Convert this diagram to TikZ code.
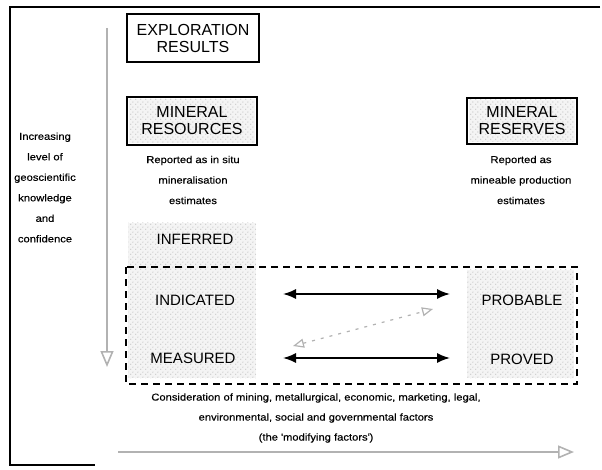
\documentclass[tikz,border=0pt]{standalone}
\usepackage{fontspec}
\setmainfont{Liberation Sans}
\newfontfamily\smallf{Liberation Sans}[FakeStretch=1.12,FakeBold=0.35]
\usetikzlibrary{arrows.meta,patterns}
\pgfdeclarepatternformonly{sparsedots}{\pgfpointorigin}{\pgfpoint{5pt}{5pt}}{\pgfpoint{5pt}{5pt}}{%
  \pgfpathcircle{\pgfpoint{1pt}{1pt}}{0.55pt}%
  \pgfpathcircle{\pgfpoint{3.5pt}{3.5pt}}{0.55pt}%
  \pgfusepath{fill}}
\begin{document}
\begin{tikzpicture}[x=1pt,y=-1pt,
  titlebox/.style={draw, line width=1.3pt, align=center, inner sep=0pt,
    font=\fontsize{16}{17}\selectfont},
  stipplebg/.style={fill=gray!9},
  stipple/.style={pattern=sparsedots, pattern color=gray!85},
  small/.style={align=center, font=\smallf\fontsize{10}{20.5}\selectfont},
  level/.style={font=\fontsize{15}{15}\selectfont, inner sep=1pt},
  bigarrow/.style={line width=1.6pt, {Latex[length=13pt,width=10pt]}-{Latex[length=13pt,width=10pt]}},
  grayarrow/.style={draw=gray!60, line width=1.6pt, -{Triangle[open, length=16pt, width=13pt]}},
  diagarrow/.style={draw=gray!60, line width=1.2pt, dash pattern=on 3pt off 6pt,
    {Triangle[open, length=11pt, width=9pt]}-{Triangle[open, length=11pt, width=9pt]}}
]
\useasboundingbox (0,0) rectangle (602,470);
% outer frame
\draw[line width=1.2pt] (600,7) -- (10,7) -- (10,465) -- (95,465);
% stipple areas
\foreach \r in {{(128,223) rectangle (256,378)},{(467,270) rectangle (574,378)},{(129,99) rectangle (255,143)},{(469,100) rectangle (575,142)}}{
  \fill[stipplebg] \r;
  \fill[stipple] \r;
}
% title boxes
\node[titlebox, minimum width=132pt, minimum height=48pt] (expl) at (193,38) {EXPLORATION\\RESULTS};
\node[titlebox, minimum width=130pt, minimum height=48pt] (res) at (192,121) {MINERAL\\RESOURCES};
\node[titlebox, minimum width=110pt, minimum height=46pt] (rsv) at (522,121) {MINERAL\\RESERVES};
% descriptions
\node[small] (resd) at (193,180) {Reported as in situ\\mineralisation\\estimates};
\node[small] (rsvd) at (521,180) {Reported as\\mineable production\\estimates};
\node[small] (side) at (45,187.5) {Increasing\\level of\\geoscientific\\knowledge\\and\\confidence};
\node[small, font=\smallf\fontsize{10}{20}\selectfont] (mod) at (316,418) {Consideration of mining, metallurgical, economic, marketing, legal,\\environmental, social and governmental factors\\(the \textquotesingle modifying factors\textquotesingle)};
% dashed box
\draw[line width=1.8pt, dash pattern=on 7pt off 5pt] (126,267) rectangle (577,384);
% levels
\node[level] (inf) at (195,239) {INFERRED};
\node[level] (ind) at (195,300) {INDICATED};
\node[level] (mea) at (193,358) {MEASURED};
\node[level] (prob) at (522,300) {PROBABLE};
\node[level] (prov) at (522,359) {PROVED};
% arrows
\coordinate (a1l) at (283,294); \coordinate (a1r) at (450,294);
\coordinate (a2l) at (283,358); \coordinate (a2r) at (450,358);
\coordinate (dl) at (293,346); \coordinate (dr) at (433,309);
\draw[bigarrow] (a1l) -- (a1r);
\draw[bigarrow] (a2l) -- (a2r);
\draw[diagarrow] (dl) -- (dr);
\coordinate (vtop) at (107,28); \coordinate (vbot) at (107,367);
\coordinate (hl) at (118,452); \coordinate (hr) at (574,452);
\draw[grayarrow] (vtop) -- (vbot);
\draw[grayarrow] (hl) -- (hr);
\end{tikzpicture}
\end{document}
